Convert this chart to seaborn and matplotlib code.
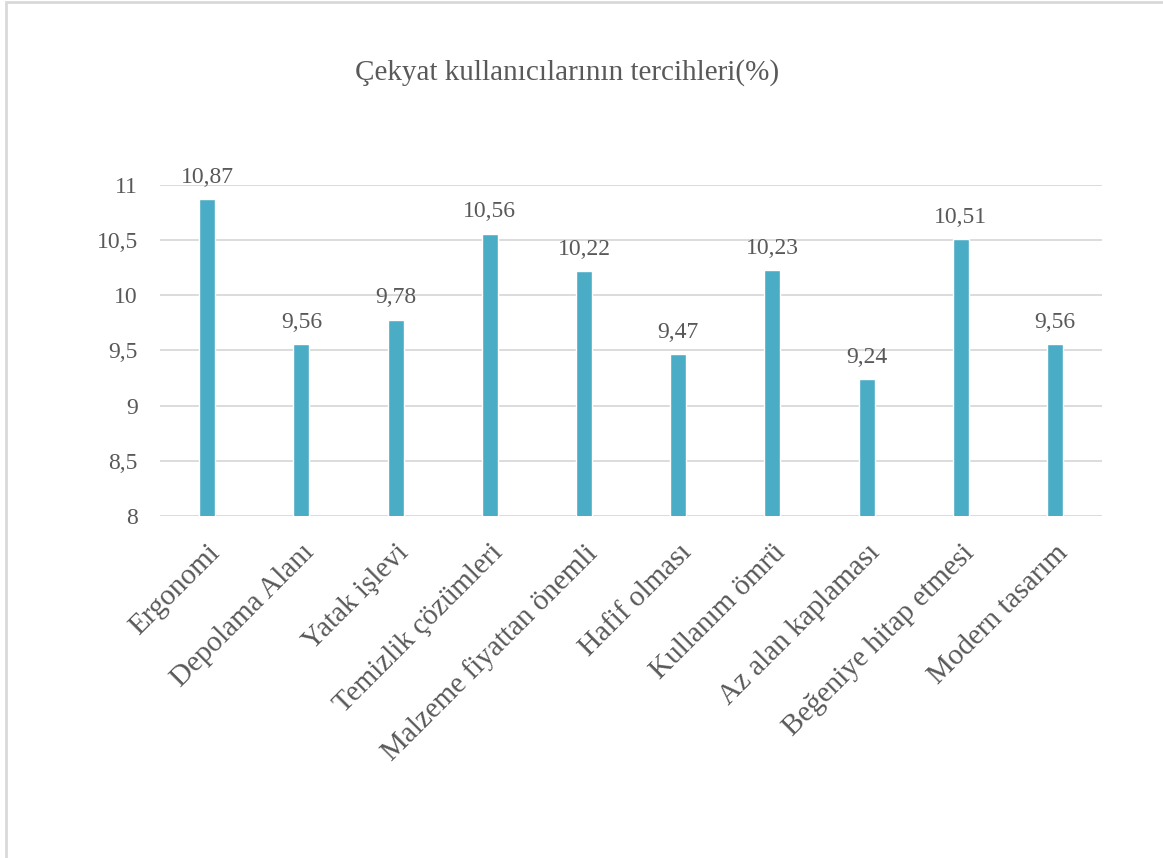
import pandas as pd
import matplotlib.pyplot as plt
import seaborn as sns
from matplotlib.patches import Rectangle

# data
categories = ['Ergonomi', 'Depolama Alanı', 'Yatak işlevi', 'Temizlik çözümleri',
              'Malzeme fiyattan önemli', 'Hafif olması', 'Kullanım ömrü',
              'Az alan kaplaması', 'Beğeniye hitap etmesi', 'Modern tasarım']
values = [10.87, 9.56, 9.78, 10.56, 10.22, 9.47, 10.23, 9.24, 10.51, 9.56]
yticks = [8, 8.5, 9, 9.5, 10, 10.5, 11]

df = pd.DataFrame({'kategori': categories, 'deger': values})

sns.set_style('white')
plt.rcParams['font.family'] = ['Liberation Serif', 'DejaVu Serif']
txt = '#595959'

fig = plt.figure(figsize=(11.63, 8.58), dpi=100)
ax = fig.add_axes([0.1376, 0.3986, 0.81, 0.3858])

sns.barplot(data=df, x='kategori', y='deger', color='#4BACC6', width=0.17,
            saturation=1, ax=ax, zorder=3)

ax.set_ylim(8, 11)
ax.set_yticks(yticks)
ax.set_yticklabels([str(t).replace('.', ',').replace(',0', '') for t in yticks],
                   fontsize=17, color=txt)
ax.yaxis.grid(True, color='#D9D9D9', linewidth=1.3, zorder=0)
ax.set_axisbelow(True)
for s in ax.spines.values():
    s.set_visible(False)
ax.tick_params(axis='y', length=0, pad=16)
ax.tick_params(axis='x', length=0, pad=17)
ax.set_xticks(range(len(categories)))
ax.set_xticklabels(categories, rotation=45, ha='right', rotation_mode='anchor',
                   fontsize=21, color=txt)
ax.set_xlabel('')
ax.set_ylabel('')

for i, v in enumerate(values):
    ax.annotate(f'{v:.2f}'.replace('.', ','), (i, v), xytext=(0, 8),
                textcoords='offset points', ha='center', va='bottom',
                fontsize=17, color=txt)

fig.text(0.488, 0.916, 'Çekyat kullanıcılarının tercihleri(%)', ha='center',
         va='center', fontsize=21, color=txt)

fig.patches.append(Rectangle((0.005, -0.01), 1.2, 1.008, transform=fig.transFigure,
                             fill=False, edgecolor='#D9D9D9', linewidth=2))

fig.savefig('out.png', dpi=100)
